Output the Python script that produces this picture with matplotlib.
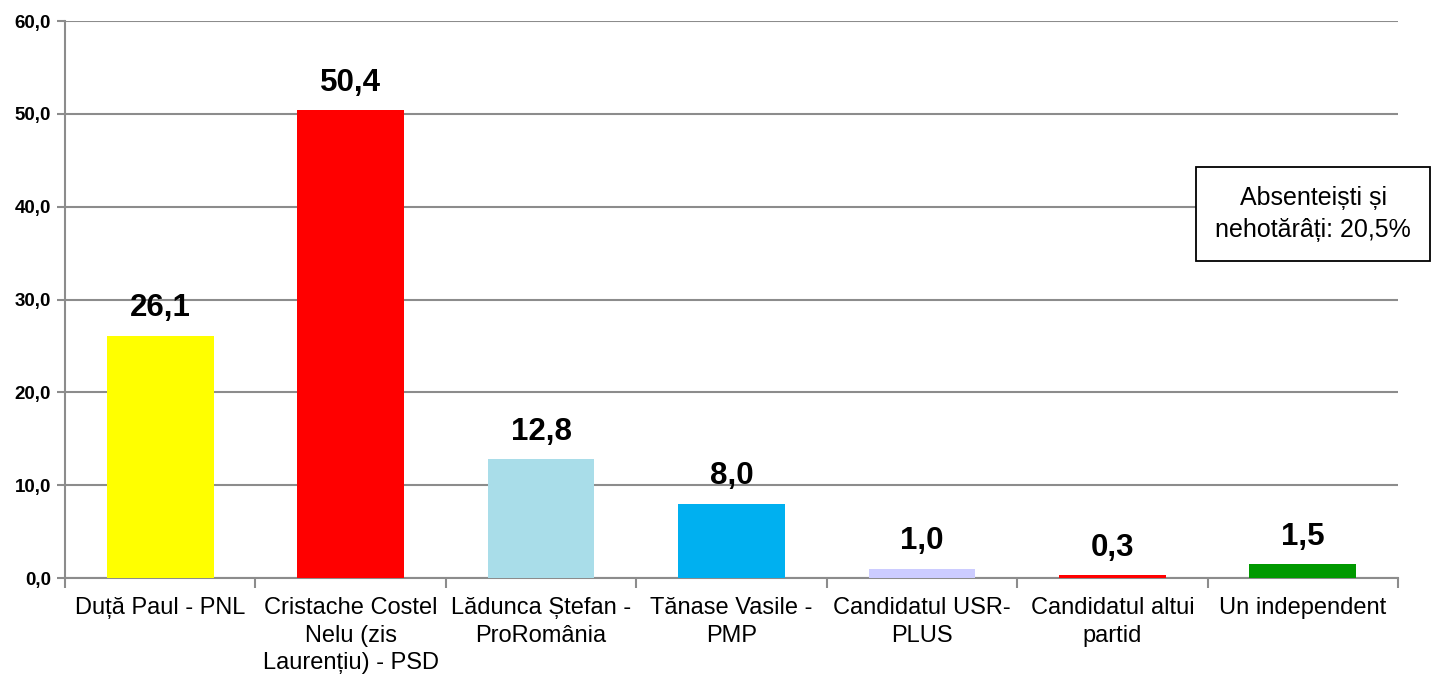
import matplotlib.pyplot as plt
import numpy as np

plt.rcParams['font.family'] = ['Liberation Sans', 'DejaVu Sans']

candidates = ['Duță Paul - PNL', 'Cristache Costel\nNelu (zis\nLaurențiu) - PSD',
              'Lădunca Ștefan -\nProRomânia', 'Tănase Vasile -\nPMP',
              'Candidatul USR-\nPLUS', 'Candidatul altui\npartid', 'Un independent']
values = [26.1, 50.4, 12.8, 8.0, 1.0, 0.3, 1.5]
colors = ['#FFFF00', '#FF0000', '#A9DDE9', '#00B0F0', '#CCCCFF', '#FF0000', '#009900']
yticks = [0, 10, 20, 30, 40, 50, 60]
note = 'Absenteiști și\nnehotărâți: 20,5%'

fig = plt.figure(figsize=(14.39, 6.75), dpi=100)
ax = fig.add_axes([65/1439, 1-578/675, 1333/1439, 557/675])

x = np.arange(len(values))
ax.bar(x, values, width=0.56, color=colors, zorder=3)

for xi, v in zip(x, values):
    ax.annotate(f'{v:.1f}'.replace('.', ','), (xi, v), xytext=(0, 9),
                textcoords='offset points', ha='center', va='bottom',
                fontsize=22.5, fontweight='bold')

ax.set_xlim(-0.5, len(values) - 0.5)
ax.set_ylim(0, 60)
ax.set_yticks(yticks)
ax.set_yticklabels([f'{t:.1f}'.replace('.', ',') for t in yticks],
                   fontsize=13.5, fontweight='bold')
ax.yaxis.grid(True, color='#8c8c8c', linewidth=1.5, zorder=0)
ax.tick_params(axis='y', length=6, width=1.5, color='#8c8c8c', pad=4)

ax.set_xticks(x)
ax.set_xticklabels(candidates, fontsize=17, linespacing=1.3)
ax.tick_params(axis='x', length=0, pad=14)
ax.set_xticks(np.arange(len(values) + 1) - 0.5, minor=True)
ax.tick_params(axis='x', which='minor', length=7, width=1.5, color='#8c8c8c')

for s in ['top', 'right']:
    ax.spines[s].set_visible(False)
for s in ['left', 'bottom']:
    ax.spines[s].set_color('#8c8c8c')
    ax.spines[s].set_linewidth(1.5)

fig.text(1313/1439, 1-214/675, note, ha='center', va='center', fontsize=18,
         linespacing=1.45,
         bbox=dict(boxstyle='square,pad=0.75', facecolor='white', edgecolor='black', linewidth=1.3))

fig.savefig('out.png', dpi=100)
